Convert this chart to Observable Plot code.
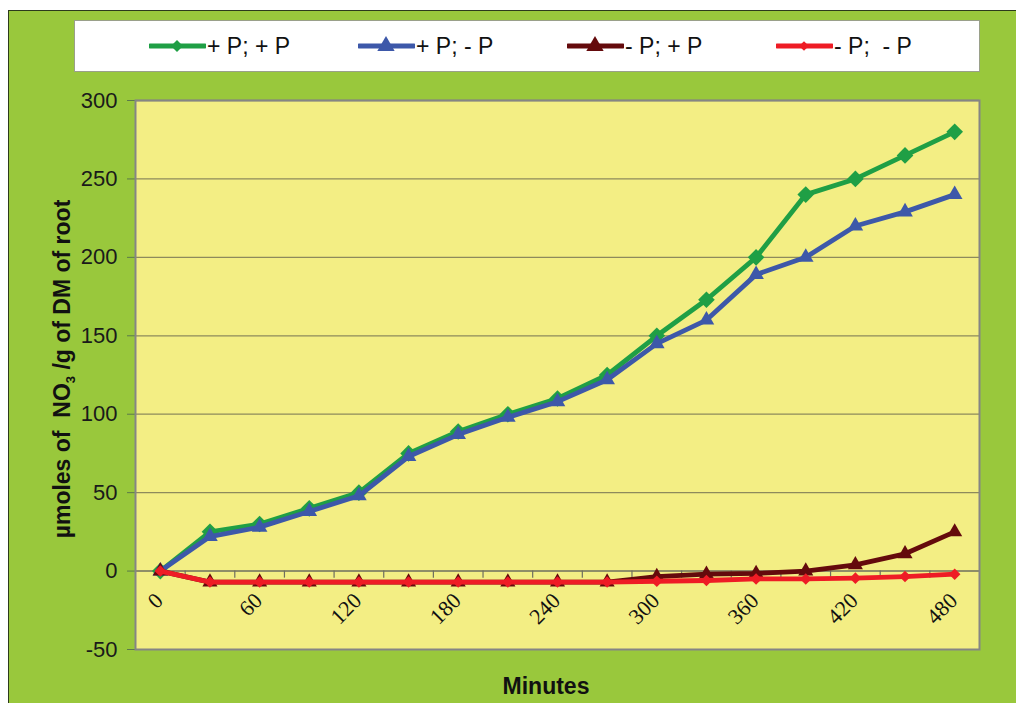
<!DOCTYPE html>
<html>
<head>
<meta charset="utf-8">
<script src="https://cdn.jsdelivr.net/npm/d3@7"></script>
<script src="https://cdn.jsdelivr.net/npm/@observablehq/plot@0.6"></script>
<style>
  html, body { margin: 0; padding: 0; background: #ffffff; width: 1016px; height: 703px; overflow: hidden; }
  #bg { position: absolute; left: 8px; top: 10px; width: 1008px; height: 693px; background: #99c83c;
        border-left: 1.5px solid #2c3a1c; border-top: 1.5px solid #2c3a1c; box-sizing: border-box; }
  #legend { position: absolute; left: 74px; top: 20px; width: 906px; height: 52px; background: #fff;
            border: 1px solid #9aa08a; box-sizing: border-box; }
  .item { position: absolute; top: 12px; height: 26px; display: flex; align-items: center;
          font-family: "Liberation Sans", Arial, sans-serif; font-size: 23px; color: #111; white-space: pre; }
  .item svg { margin-right: 1px; }
  #chart { position: absolute; left: 0; top: 80px; }
</style>
</head>
<body>
<div id="bg"></div>
<div id="legend"></div>
<div id="chart"></div>
<script>
// ---- data ----
const minutes = [0, 30, 60, 90, 120, 150, 180, 210, 240, 270, 300, 330, 360, 390, 420, 450, 480];
const seriesNames = ["+ P; + P", "+ P; - P", "- P; + P", "- P;  - P"];
const plusPplusP   = [0, 25, 30, 40, 50, 75, 89, 100, 110, 125, 150, 173, 200, 240, 250, 265, 280];
const plusPminusP  = [0, 22, 28, 38, 48, 73, 87, 98, 108, 122, 145, 160, 189, 200, 220, 229, 240];
const minusPplusP  = [0, -7, -7, -7, -7, -7, -7, -7, -7, -7, -3.5, -2, -1.5, 0, 4, 11, 25];
const minusPminusP = [0, -7, -7, -7, -7, -7, -7, -7, -7, -7, -6.5, -6, -5, -5, -4.5, -3.5, -2];
const xTickLabels = [0, 60, 120, 180, 240, 300, 360, 420, 480];
const categoryBounds = [15, 45, 75, 105, 135, 165, 195, 225, 255, 285, 315, 345, 375, 405, 435, 465];
const yTicks = [-50, 0, 50, 100, 150, 200, 250, 300];
const gridValues = [50, 100, 150, 200, 250, 300];

const colors = ["#1f9f45", "#3d58a9", "#640a0c", "#ee1c25"];
const symbols = ["diamond2", "triangle", "triangle", "diamond2"];
const radii = [7.5, 5.8, 5.6, 5.2];
const valueLists = [plusPplusP, plusPminusP, minusPplusP, minusPminusP];

const rows = valueLists.flatMap((vals, s) => vals.map((v, i) => ({series: seriesNames[s], s, minute: minutes[i], value: v})));

// ---- legend ----
const legend = document.getElementById("legend");
const legendX = [74, 283, 492, 701];
seriesNames.forEach((name, s) => {
  const item = document.createElement("div");
  item.className = "item";
  item.style.left = legendX[s] + "px";
  const ns = "http://www.w3.org/2000/svg";
  const sv = document.createElementNS(ns, "svg");
  sv.setAttribute("width", 57); sv.setAttribute("height", 20);
  const ln = document.createElementNS(ns, "line");
  ln.setAttribute("x1", 1); ln.setAttribute("x2", 56); ln.setAttribute("y1", 10); ln.setAttribute("y2", 10);
  ln.setAttribute("stroke", colors[s]); ln.setAttribute("stroke-width", 5); ln.setAttribute("stroke-linecap", "round");
  sv.appendChild(ln);
  const p = document.createElementNS(ns, "path");
  const sym = symbols[s] === "triangle" ? d3.symbolTriangle : d3.symbolDiamond2;
  const size = symbols[s] === "triangle" ? 130 : (s === 0 ? 90 : 60);
  p.setAttribute("d", d3.symbol(sym, size)());
  p.setAttribute("transform", "translate(28,10)");
  p.setAttribute("fill", colors[s]);
  sv.appendChild(p);
  item.appendChild(sv);
  const t = document.createElement("span");
  t.textContent = name;
  item.appendChild(t);
  legend.appendChild(item);
});

// ---- chart ----
const marks = [
  Plot.frame({fill: "#f3ee84"}),
  Plot.ruleY(gridValues, {stroke: "#8d8a5c", strokeWidth: 1.3}),
  Plot.ruleY([0], {stroke: "#6e6e5e", strokeWidth: 1.5}),
  Plot.ruleX(categoryBounds, {y1: 0, y2: -4.5, stroke: "#6e6e5e", strokeWidth: 1.2}),
  Plot.axisY(yTicks, {tickSize: 8, tickPadding: 10, fontSize: 22, color: "#1a1a1a", stroke: "#5b7a4a", label: null,
    tickFormat: d => String(d), fontFamily: "Liberation Sans, Arial, sans-serif"}),
  Plot.text(xTickLabels, {x: d => d, y: 0, text: d => String(d), rotate: -45, textAnchor: "end", dx: -1, dy: 26,
    fontSize: 22, fontFamily: "Liberation Serif, Times New Roman, serif", fill: "#111"})
];
seriesNames.forEach((name, s) => {
  const data = rows.filter(d => d.s === s);
  marks.push(Plot.line(data, {x: "minute", y: "value", stroke: colors[s], strokeWidth: 4.8, strokeLinejoin: "round"}));
  marks.push(Plot.dot(data, {x: "minute", y: "value", symbol: () => symbols[s], r: radii[s], fill: colors[s], stroke: "none"}));
});
marks.push(Plot.frame({stroke: "#858585", strokeWidth: 2}));

const chart = Plot.plot({
  width: 1016,
  height: 623,
  marginLeft: 135,
  marginRight: 37,
  marginTop: 20,
  marginBottom: 54,
  style: {background: "transparent", fontFamily: "Liberation Sans, Arial, sans-serif", overflow: "visible"},
  x: {domain: [-15, 495], axis: null},
  y: {domain: [-50, 300], axis: null},
  symbol: {type: "identity"},
  marks
});
document.getElementById("chart").appendChild(chart);

// axis titles
const svg = d3.select(chart);
const yTitle = svg.append("text")
  .attr("transform", "translate(70,289) rotate(-90)")
  .attr("text-anchor", "middle")
  .attr("font-family", "Liberation Sans, Arial, sans-serif")
  .attr("font-weight", "bold")
  .attr("font-size", 23)
  .attr("fill", "#111")
  .style("white-space", "pre");
yTitle.append("tspan").text("µmoles of  NO");
yTitle.append("tspan").attr("font-size", 13).attr("dy", 5).text("3");
yTitle.append("tspan").attr("dy", -5).text(" /g of DM of root");

svg.append("text")
  .attr("x", 546).attr("y", 614)
  .attr("text-anchor", "middle")
  .attr("font-family", "Liberation Sans, Arial, sans-serif")
  .attr("font-weight", "bold")
  .attr("font-size", 23)
  .attr("fill", "#111")
  .text("Minutes");
</script>
</body>
</html>
